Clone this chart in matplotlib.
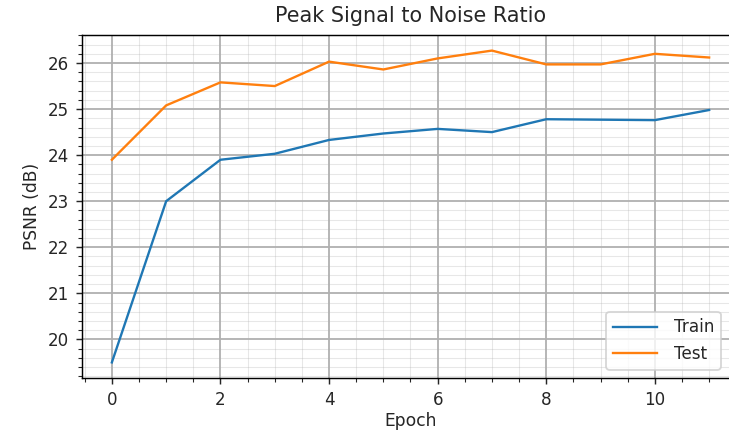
import matplotlib
matplotlib.use("Agg")
import matplotlib.pyplot as plt
from matplotlib.ticker import AutoMinorLocator

epochs = list(range(12))
train_psnr = [19.50, 23.00, 23.90, 24.03, 24.33, 24.47, 24.57, 24.50, 24.78, 24.77, 24.76, 24.98]
test_psnr = [23.90, 25.08, 25.58, 25.50, 26.03, 25.86, 26.10, 26.27, 25.97, 25.97, 26.20, 26.12]

plt.rcParams["text.color"] = "#262626"
plt.rcParams["axes.labelcolor"] = "#262626"
plt.rcParams["xtick.color"] = "#262626"
plt.rcParams["ytick.color"] = "#262626"

dpi = 130
fig = plt.figure(figsize=(729 / dpi, 430 / dpi), dpi=dpi)
ax = fig.add_axes([82 / 729, 1 - 378 / 430, (739 - 82) / 729, (378 - 35) / 430])

ax.plot(epochs, train_psnr, label="Train", linewidth=1.3)
ax.plot(epochs, test_psnr, label="Test", linewidth=1.3)

ax.xaxis.set_minor_locator(AutoMinorLocator(4))
ax.yaxis.set_minor_locator(AutoMinorLocator(5))
ax.grid(which="major", color="#b0b0b0", linewidth=1.0)
ax.grid(which="minor", color="#b0b0b0", linewidth=0.6, alpha=0.3)
ax.tick_params(labelsize=9.3)

ax.set_title("Peak Signal to Noise Ratio", fontsize=11.5, pad=7)
ax.set_xlabel("Epoch", fontsize=9.5, labelpad=2)
ax.set_ylabel("PSNR (dB)", fontsize=9.5)
ax.legend(loc="lower right", fontsize=9.3, handlelength=2.6, handletextpad=1.0,
          bbox_to_anchor=(0.985, 0.0))

fig.savefig("out.png", dpi=dpi)
